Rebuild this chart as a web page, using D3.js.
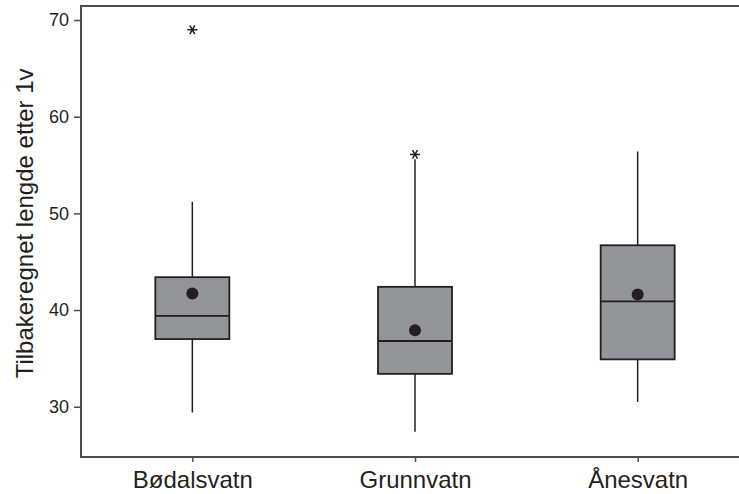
<!DOCTYPE html>
<html>
<head>
<meta charset="utf-8">
<script src="https://cdn.jsdelivr.net/npm/d3@7"></script>
<style>
  html, body { margin: 0; padding: 0; background: #fff; }
  svg { display: block; font-family: "Liberation Sans", Arial, sans-serif; }
</style>
</head>
<body>
<svg id="chart" width="739" height="494"></svg>
<script>
// ---- data ----
const categories = ["Bødalsvatn", "Grunnvatn", "Ånesvatn"];
const whiskerLow = [29.4, 27.4, 30.5];
const q1 = [37.0, 33.4, 34.9];
const median = [39.4, 36.8, 40.9];
const q3 = [43.4, 42.4, 46.7];
const whiskerHigh = [51.2, 55.6, 56.4];
const mean = [41.7, 37.9, 41.6];
const outliers = [[69.0], [56.1], []];
const yTicks = [30, 40, 50, 60, 70];
const yLabel = "Tilbakeregnet lengde etter 1v";

// ---- layout ----
const svg = d3.select("#chart");
const mLeft = 81, mTop = 6, mBottom = 457, mRight = 749;
const ink = "#231f20", frameCol = "#4d4d4d", boxFill = "#939598";

const y = d3.scaleLinear().domain([24.8, 71.45]).range([mBottom, mTop]);
const x = d3.scalePoint().domain(categories).range([mLeft, mRight]).padding(0.5);
const halfW = 37;

// frame (left, top, bottom lines; right cut off)
svg.append("path")
  .attr("d", `M760,${mTop}H${mLeft}V${mBottom}H760`)
  .attr("fill", "none").attr("stroke", frameCol).attr("stroke-width", 2);

// y axis
const yAxis = d3.axisLeft(y).tickValues(yTicks).tickSize(7).tickPadding(5);
const gy = svg.append("g").attr("transform", `translate(${mLeft},0)`).call(yAxis);
gy.select(".domain").remove();
gy.selectAll(".tick line").attr("stroke", frameCol).attr("stroke-width", 1.5);
gy.selectAll(".tick text").attr("fill", ink).style("font-size", "18px")
  .style("font-family", "'Liberation Sans', Arial, sans-serif");

// x axis
const xAxis = d3.axisBottom(x).tickSize(5).tickPadding(9);
const gx = svg.append("g").attr("transform", `translate(0,${mBottom})`).call(xAxis);
gx.select(".domain").remove();
gx.selectAll(".tick line").attr("stroke", frameCol).attr("stroke-width", 1.5);
gx.selectAll(".tick text").attr("fill", ink).style("font-size", "24px")
  .style("font-family", "'Liberation Sans', Arial, sans-serif");

// y label
svg.append("text")
  .attr("transform", `translate(33,${(y(30) + y(70)) / 2 + 10}) rotate(-90)`)
  .attr("text-anchor", "middle")
  .attr("fill", ink)
  .style("font-size", "24px")
  .text(yLabel);

// boxes
const data = categories.map((c, i) => ({
  c, lo: whiskerLow[i], q1: q1[i], med: median[i], q3: q3[i], hi: whiskerHigh[i],
  mean: mean[i], out: outliers[i]
}));

const g = svg.append("g");
const box = g.selectAll("g.box").data(data).join("g").attr("class", "box");

box.append("line")
  .attr("x1", d => x(d.c)).attr("x2", d => x(d.c))
  .attr("y1", d => y(d.q3)).attr("y2", d => y(d.hi))
  .attr("stroke", ink).attr("stroke-width", 1.5);
box.append("line")
  .attr("x1", d => x(d.c)).attr("x2", d => x(d.c))
  .attr("y1", d => y(d.q1)).attr("y2", d => y(d.lo))
  .attr("stroke", ink).attr("stroke-width", 1.5);

box.append("rect")
  .attr("x", d => x(d.c) - halfW).attr("width", halfW * 2)
  .attr("y", d => y(d.q3)).attr("height", d => y(d.q1) - y(d.q3))
  .attr("fill", boxFill).attr("stroke", ink).attr("stroke-width", 1.8);

box.append("line")
  .attr("x1", d => x(d.c) - halfW).attr("x2", d => x(d.c) + halfW)
  .attr("y1", d => y(d.med)).attr("y2", d => y(d.med))
  .attr("stroke", ink).attr("stroke-width", 1.8);

box.append("circle")
  .attr("cx", d => x(d.c)).attr("cy", d => y(d.mean))
  .attr("r", 6).attr("fill", ink);

// outliers (asterisks)
const star = (r) => {
  let p = "";
  for (const a of [0, 60, 120]) {
    const t = a * Math.PI / 180;
    const dx = r * Math.cos(t), dy = r * Math.sin(t);
    p += `M${-dx},${-dy}L${dx},${dy}`;
  }
  return p;
};
box.each(function(d) {
  d3.select(this).selectAll("path.out").data(d.out).join("path")
    .attr("class", "out")
    .attr("transform", v => `translate(${x(d.c)},${y(v)})`)
    .attr("d", star(5))
    .attr("fill", "none").attr("stroke", ink).attr("stroke-width", 1.5);
});
</script>
</body>
</html>
